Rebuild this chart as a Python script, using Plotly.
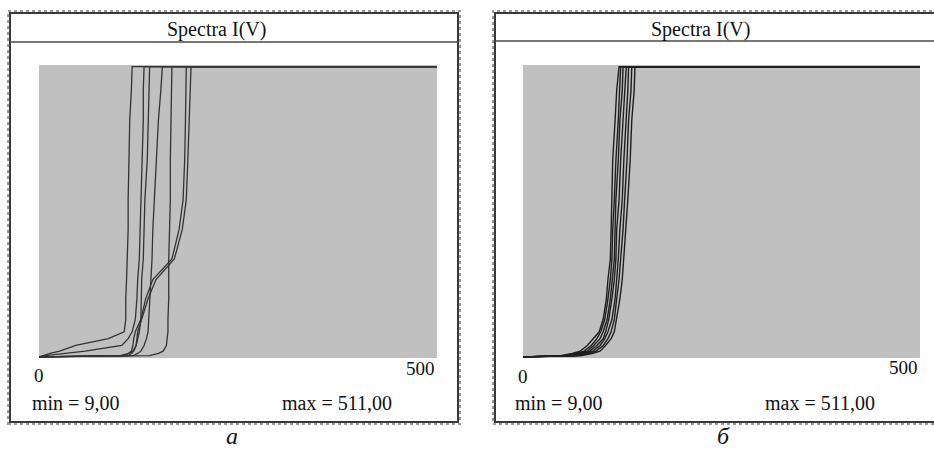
import plotly.graph_objects as go

W, H = 934, 452

# ---- data (x: 0..500, y: signal, saturates at 255) ----
y_levels = [0, 1, 3, 5, 10, 16, 22, 33, 51, 68, 86, 112, 138, 173, 208, 234, 255]
X_END = 500
Y_SAT = 255

left_curves = {
    "a1": [0, 4, 14, 26, 46, 87, 107, 109, 109, 110, 111, 112, 112, 113, 114, 116, 117],
    "a2": [0, 8, 33, 58, 104, 112, 117, 121, 123, 124, 126, 127, 128, 129, 131, 131, 132],
    "a3": [0, 102, 113, 118, 122, 124, 126, 128, 129, 129, 131, 132, 133, 136, 137, 138, 139],
    "a4": [0, 118, 124, 128, 132, 135, 137, 138, 139, 141, 142, 143, 145, 147, 150, 153, 155],
    "a5": [0, 139, 150, 156, 160, 161, 162, 162, 163, 163, 163, 164, 165, 165, 166, 166, 167],
    "a6": [0, 107, 112, 116, 118, 119, 121, 128, 134, 143, 167, 176, 181, 183, 184, 185, 185],
    "a7": [0, 112, 116, 119, 122, 123, 124, 129, 137, 147, 170, 180, 185, 187, 189, 190, 191],
}

right_curves = {
    "b1": [0, 47, 62, 72, 81, 89, 96, 101, 105, 107, 110, 111, 112, 113, 116, 118, 121],
    "b2": [0, 53, 67, 77, 86, 93, 98, 103, 107, 110, 112, 113, 115, 117, 120, 122, 123],
    "b3": [0, 57, 71, 81, 89, 97, 101, 106, 110, 112, 115, 116, 117, 120, 122, 125, 126],
    "b4": [0, 59, 74, 84, 93, 101, 104, 108, 112, 115, 117, 118, 121, 123, 126, 128, 130],
    "b5": [0, 63, 78, 88, 97, 103, 107, 112, 116, 118, 120, 122, 125, 127, 130, 132, 133],
    "b6": [0, 67, 82, 92, 101, 107, 111, 115, 118, 121, 123, 126, 128, 131, 133, 136, 137],
    "b7": [0, 72, 87, 97, 104, 111, 115, 118, 122, 125, 127, 130, 132, 135, 137, 140, 141],
}

title_text = "Spectra I(V)"
tick_labels = ["0", "500"]
min_text = "min = 9,00"
max_text = "max = 511,00"
panel_labels = ["a", "б"]


def px(x):
    return x / W


def py(y):
    return 1 - y / H


fig = go.Figure()

for name, xs in left_curves.items():
    fig.add_trace(go.Scatter(x=xs + [X_END], y=y_levels + [Y_SAT], mode="lines",
                             line=dict(color="#333333", width=1.3),
                             xaxis="x", yaxis="y", showlegend=False, hoverinfo="skip"))
for name, xs in right_curves.items():
    fig.add_trace(go.Scatter(x=xs + [X_END], y=y_levels + [Y_SAT], mode="lines",
                             line=dict(color="#1e1e1e", width=1.4),
                             xaxis="x2", yaxis="y2", showlegend=False, hoverinfo="skip"))

ax = dict(showgrid=False, zeroline=False, showticklabels=False, ticks="",
          showline=False, fixedrange=True)
ydom = [py(358), py(65)]
fig.update_layout(
    width=W, height=H,
    margin=dict(l=0, r=0, t=0, b=0),
    paper_bgcolor="white", plot_bgcolor="#c0c0c0",
    xaxis=dict(ax, domain=[px(39), px(437)], range=[0, 500], anchor="y"),
    yaxis=dict(ax, domain=ydom, range=[-1, 256.5], anchor="x"),
    xaxis2=dict(ax, domain=[px(523), px(920)], range=[0, 500], anchor="y2"),
    yaxis2=dict(ax, domain=ydom, range=[-1, 256.5], anchor="x2"),
)

shapes = []
# frames
for (x0, x1, ysep) in [(10, 458, 42), (495, 945, 41)]:
    shapes.append(dict(type="rect", xref="paper", yref="paper",
                       x0=px(x0 - 2), x1=px(x1 + 2), y0=py(424), y1=py(11),
                       line=dict(color="#9a9a9a", width=2, dash="dot")))
    shapes.append(dict(type="rect", xref="paper", yref="paper",
                       x0=px(x0), x1=px(x1), y0=py(422), y1=py(13),
                       line=dict(color="#3a3a3a", width=2)))
    shapes.append(dict(type="line", xref="paper", yref="paper",
                       x0=px(x0), x1=px(x1), y0=py(ysep), y1=py(ysep),
                       line=dict(color="#4a4a4a", width=1.5)))
fig.update_layout(shapes=shapes)

serif = "Liberation Serif, Times New Roman, serif"
ann = []


def text(t, x, y, xanchor="left", size=20, italic=False, xref="paper"):
    ann.append(dict(text=("<i>%s</i>" % t) if italic else t, x=x, y=py(y),
                    xref=xref, yref="paper", xanchor=xanchor, yanchor="middle",
                    showarrow=False, font=dict(family=serif, size=size, color="#111")))


text(title_text, px(216), 29, "center")
text(title_text, px(700), 29, "center")
text(tick_labels[0], 0, 375, "center", 19, xref="x")
text(tick_labels[1], 500, 368, "right", 19, xref="x")
text(tick_labels[0], 0, 376, "center", 19, xref="x2")
text(tick_labels[1], 500, 367, "right", 19, xref="x2")
text(min_text, px(30), 403)
text(max_text, px(280), 403)
text(min_text, px(513), 403)
text(max_text, px(763), 403)
text(panel_labels[0], px(232), 436, "center", 24, italic=True)
text(panel_labels[1], px(723), 436, "center", 24, italic=True)
fig.update_layout(annotations=ann)

fig.write_html("out.html", config={"displayModeBar": False},
               post_script="document.body.style.margin='0';document.body.style.overflow='hidden';")
